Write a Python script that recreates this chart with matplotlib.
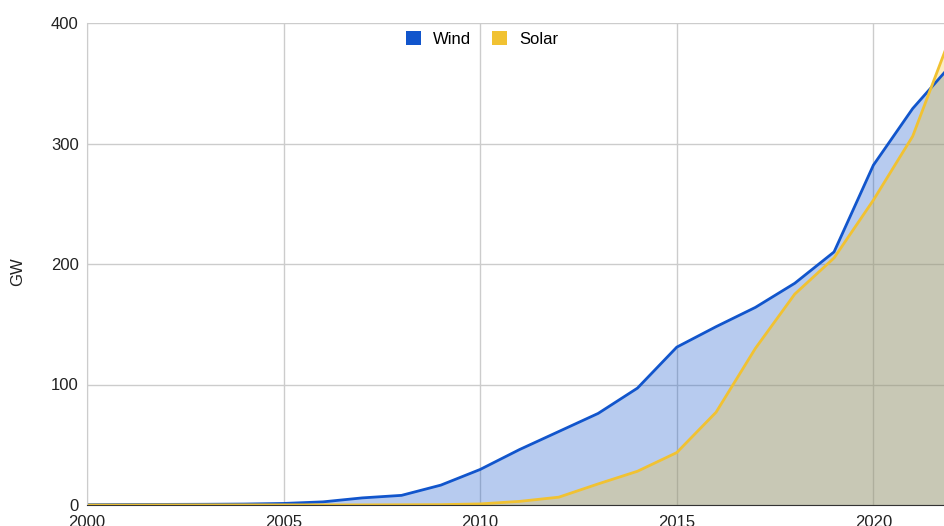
import matplotlib.pyplot as plt
from matplotlib.patches import Patch

years = list(range(2000, 2023))
wind = [0.3, 0.4, 0.5, 0.6, 0.8, 1.3, 2.6, 5.9, 8.0, 16.5, 29.5, 46, 61, 76, 97, 131,
        148, 164, 184, 210, 282, 329, 366]
solar = [0.0, 0.0, 0.1, 0.1, 0.1, 0.1, 0.1, 0.1, 0.2, 0.3, 0.9, 3.0, 6.5, 17.5, 28, 43.5,
         77, 130, 175, 205, 253, 306, 392]

wind_color = '#1155cc'
solar_color = '#f1c232'

plt.rcParams['font.family'] = ['Liberation Sans', 'DejaVu Sans']

W, H = 945, 526
fig = plt.figure(figsize=(W / 100, H / 100), dpi=100)
# axes run past the right edge of the picture, as in the reference
left, bottom, top = 87, 21, 503
x_end = 952
ax = fig.add_axes([left / W, bottom / H, (x_end - left) / W, (top - bottom) / H])

ax.fill_between(years, wind, 0, color=wind_color, alpha=0.3, linewidth=0)
ax.fill_between(years, solar, 0, color=solar_color, alpha=0.3, linewidth=0)
ax.plot(years, wind, color=wind_color, linewidth=2)
ax.plot(years, solar, color=solar_color, linewidth=2)

ax.set_xlim(2000, 2022)
ax.set_ylim(0, 400)
ax.set_xticks([2000, 2005, 2010, 2015, 2020])
ax.set_yticks([0, 100, 200, 300, 400])
ax.grid(True, color='#cccccc', linewidth=1)
ax.set_axisbelow(True)
for s in ['top', 'right']:
    ax.spines[s].set_visible(False)
ax.spines['left'].set_color('#cccccc')
ax.spines['bottom'].set_color('#333333')
ax.tick_params(length=0, labelsize=12, colors='#222222', pad=6)
ax.tick_params(axis='x', pad=7)

fig.text(18 / W, 1 - 272 / H, 'GW', rotation=90, ha='center', va='center',
         fontsize=12, color='#222222')

handles = [Patch(facecolor=wind_color, label='Wind'),
           Patch(facecolor=solar_color, label='Solar')]
fig.legend(handles=handles, loc='upper center', bbox_to_anchor=(482 / W, 1 - 23 / H),
           ncol=2, frameon=False, fontsize=12, handlelength=0.9, handleheight=0.9,
           handletextpad=0.72, columnspacing=1.25, borderpad=0)

fig.savefig('out.png', dpi=100)
